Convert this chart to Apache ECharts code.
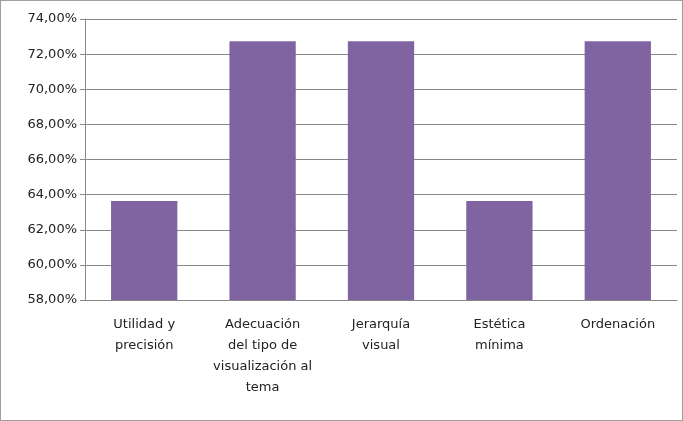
<!DOCTYPE html>
<html>
<head>
<meta charset="UTF-8" />
<script src="https://cdn.jsdelivr.net/npm/echarts@6.0.0/dist/echarts.min.js"></script>
<style>
  html, body { margin: 0; padding: 0; background: #fff; }
  #container { width: 681px; height: 419px; border: 1px solid #a0a0a0; }
</style>
</head>
<body>
<div id="container"></div>
<script>
  const categories = [
    'Utilidad y\nprecisión',
    'Adecuación\ndel tipo de\nvisualización al\ntema',
    'Jerarquía\nvisual',
    'Estética\nmínima',
    'Ordenación'
  ]
  const values = [63.64, 72.73, 72.73, 63.64, 72.73]

  const chart = echarts.init(document.getElementById('container'))
  chart.setOption({
    animation: false,
    grid: { left: 84, right: 5, top: 18, bottom: 120 },
    xAxis: {
      type: 'category',
      data: categories,
      axisTick: { show: false },
      axisLine: { lineStyle: { color: '#888' } },
      axisLabel: {
        interval: 0, color: '#222', fontSize: 13, lineHeight: 21,
        fontFamily: 'DejaVu Sans', margin: 14
      }
    },
    yAxis: {
      type: 'value',
      min: 58, max: 74, interval: 2,
      axisLine: { show: true, lineStyle: { color: '#888' } },
      axisTick: { show: true, length: 5, inside: false, lineStyle: { color: '#888' } },
      splitLine: { lineStyle: { color: '#888' } },
      axisLabel: {
        color: '#222', fontSize: 13, fontFamily: 'DejaVu Sans', margin: 8,
        formatter: v => v.toFixed(2).replace('.', ',') + '%'
      }
    },
    series: [{
      type: 'bar',
      data: values,
      barWidth: '56%',
      itemStyle: { color: '#8064a2' }
    }]
  })
</script>
</body>
</html>
